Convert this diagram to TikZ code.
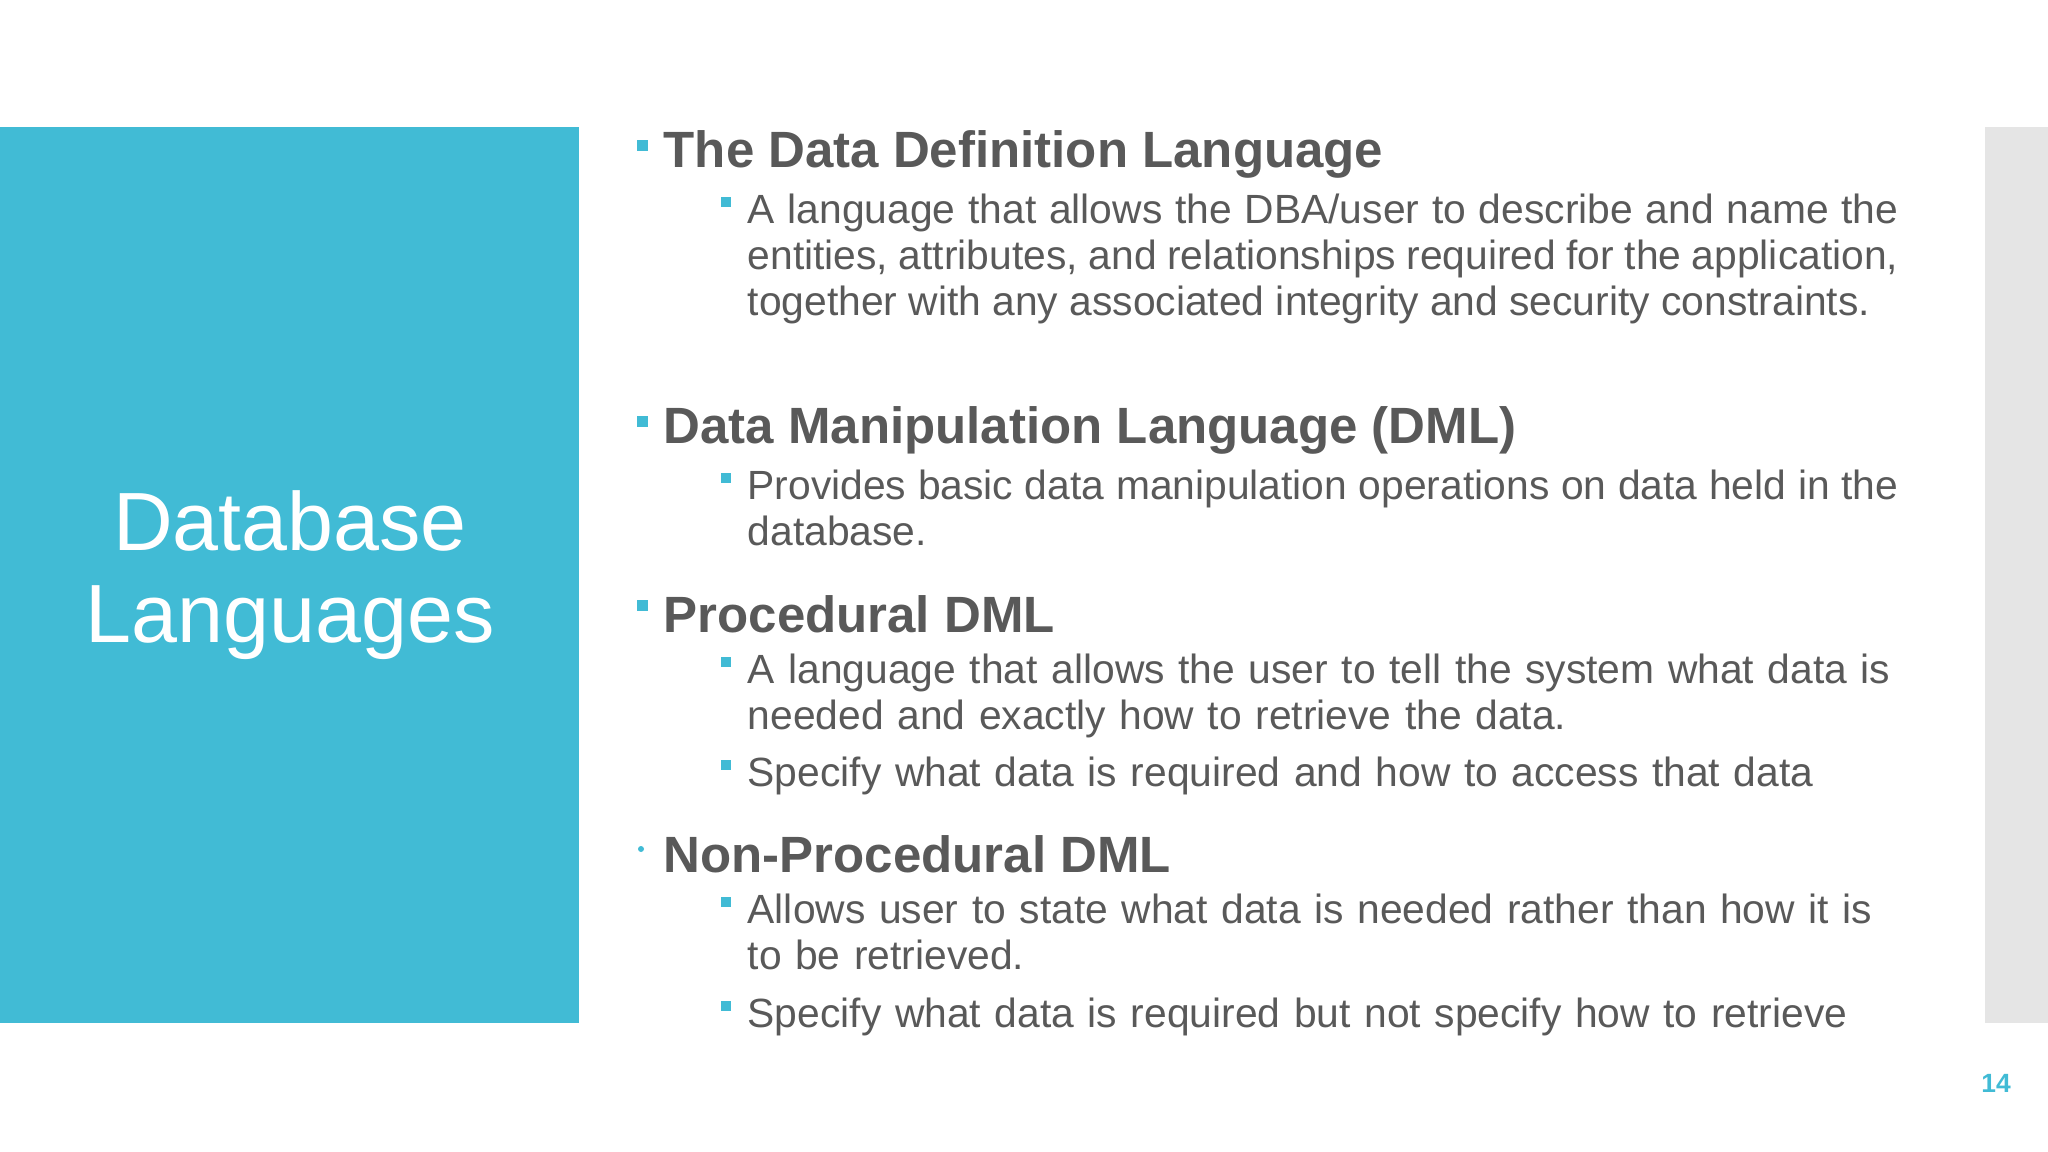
\documentclass[tikz,border=0pt]{standalone}
\usepackage{fontspec}
\setmainfont{Liberation Sans}
\definecolor{tblue}{HTML}{41BBD5}
\definecolor{tgray}{HTML}{595959}
\definecolor{lgray}{HTML}{E5E5E5}
\begin{document}
\begin{tikzpicture}[x=0.01cm,y=-0.01cm,
  head/.style={anchor=west,inner sep=0,text=tgray,font=\fontsize{14.5}{17}\selectfont\bfseries},
  para/.style={anchor=north west,inner sep=0,text=tgray,text width=11.5cm,align=justify,font=\fontsize{11.6}{13.1}\selectfont},
  paral/.style={para,align=left},
  sq/.style={fill=tblue,draw=none}]
\useasboundingbox (0,0) rectangle (2048,1152);
\fill[white] (0,0) rectangle (2048,1152);
\fill[tblue] (0,127) rectangle (579,1023);
\fill[lgray] (1985,127) rectangle (2048,1023);
\node[text=white,align=center,font=\fontsize{23.5}{26}\selectfont] (title) at (290,575) {Database\\Languages};
\node[text=tblue,font=\fontsize{7.5}{9}\selectfont\bfseries] (pg) at (1996,1083) {14};
% headings
\fill[sq] (637,140) rectangle (648,151);
\node[head] (h1) at (663,154) {The Data Definition Language};
\fill[sq] (637,416) rectangle (648,427);
\node[head] (h2) at (663,430) {Data Manipulation Language (DML)};
\fill[sq] (637,600) rectangle (648,611);
\node[head] (h3) at (663,614) {Procedural DML};
\fill[tblue] (641,849) circle (3);
\node[head] (h4) at (663,854) {Non-Procedural DML};
% sub bullets
\foreach \y in {197,473,657,760,897,1001} \fill[sq] (721,\y) rectangle (731,\y+10);
\node[para] (p1) at (747,193) {A language that allows the DBA/user to describe and name the entities, attributes, and relationships required for the application, together with any associated integrity and security constraints.};
\node[para] (p2) at (747,469) {Provides basic data manipulation operations on data held in the database.};
\node[paral] (p3) at (747,653) {A language that allows the user to tell the system what data is needed and exactly how to retrieve the data.};
\node[paral] (p4) at (747,756) {Specify what data is required and how to access that data};
\node[paral] (p5) at (747,893) {Allows user to state what data is needed rather than how it is to be retrieved.};
\node[paral] (p6) at (747,997) {Specify what data is required but not specify how to retrieve};
\end{tikzpicture}
\end{document}
